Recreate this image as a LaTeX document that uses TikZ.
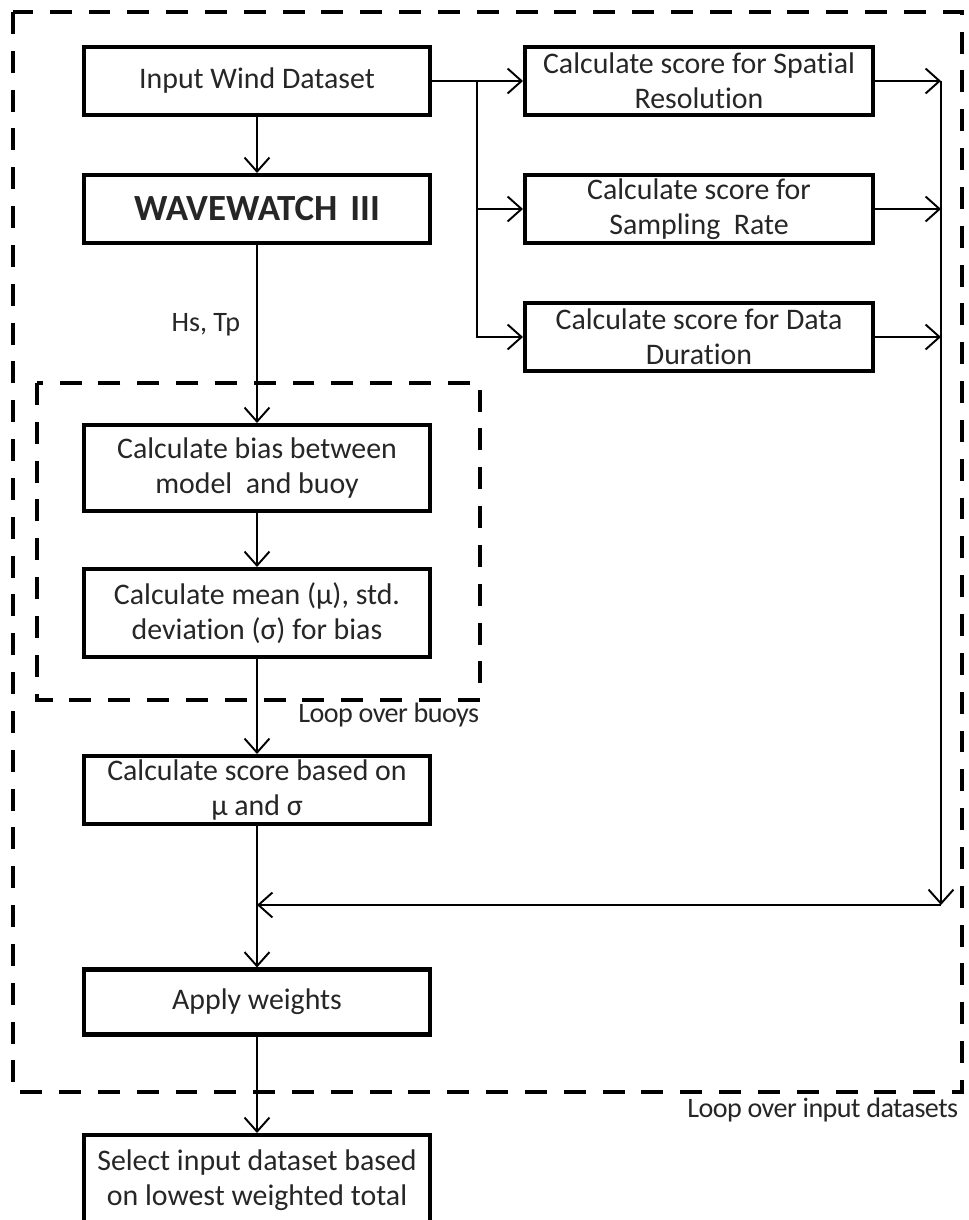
\documentclass[tikz,border=0pt]{standalone}
\usepackage{fontspec}
\setmainfont{Carlito}[Ligatures=NoCommon]
\usetikzlibrary{arrows.meta,positioning}

\begin{document}
\begin{tikzpicture}[x=0.02cm,y=-0.02cm,line width=1.1pt,>={Straight Barb[length=2.8mm,width=5mm]},
  box/.style={draw,line width=2.3pt,minimum width=6.92cm,minimum height=1.36cm,align=center,
    inner sep=1pt,text=black!85,font=\fontsize{17}{20}\selectfont},
  loop/.style={draw,line width=2.3pt,dash pattern=on 12.5pt off 9.6pt},
  note/.style={text=black!85,font=\fontsize{16}{18}\selectfont\addfontfeature{LetterSpace=-2}}]
  \useasboundingbox (0,0) rectangle (968,1220);
  % loops
  \draw[loop] (13,12) rectangle (962,1092);
  \draw[loop] (37,383) rectangle (480,700);
  \node[note,anchor=base east] (buoys) at (486,722) {Loop over buoys};
  \node[note,anchor=base east] (datasets) at (965,1117) {Loop over input datasets};
  % main chain
  \node[box] (wind) at (257,81) {Input Wind Dataset};
  \node[box,font=\fontsize{21}{24}\selectfont\bfseries] (ww3) at (257,209) {WAVEWATCH\hspace{0.35em}III};
  \node[box,minimum height=1.72cm] (bias) at (257,468) {Calculate bias between\\model\ \ and buoy};
  \node[box,minimum height=1.76cm] (stats) at (257,613) {Calculate mean (μ), std.\\deviation (σ) for bias};
  \node[box] (score) at (257,790) {Calculate score based on\\μ and σ};
  \node[box,minimum height=1.3cm] (weights) at (257,1002) {Apply weights};
  \node[box,minimum height=1.8cm] (select) at (257,1180) {Select input dataset based\\on lowest weighted total};
  % scores
  \node[box,minimum width=6.96cm] (spatial) at (699,81) {Calculate score for Spatial\\Resolution};
  \node[box,minimum width=6.96cm] (sampling) at (699,209) {Calculate score for\\Sampling\ \ Rate};
  \node[box,minimum width=6.96cm] (duration) at (699,337) {Calculate score for Data\\Duration};
  \coordinate (split) at (477,81);
  \coordinate (collect) at (941,81);
  \coordinate (corner) at (941,905);
  \coordinate (merge) at (257,905);
  % connectors
  \draw[->] (wind) -- (ww3);
  \draw[->] (ww3) -- node[text=black!85,font=\fontsize{16}{18}\selectfont,left=0.2cm,pos=0.45]{Hs, Tp} (bias);
  \draw[->] (bias) -- (stats);
  \draw[->] (stats) -- (score);
  \draw (score) -- (merge);
  \draw[->] (merge) -- (weights);
  \draw[->] (weights) -- (select);
  \draw (wind.east) -- (split);
  \draw[->] (split) -- (spatial.west);
  \draw[->] (split) |- (sampling.west);
  \draw[->] (split) |- (duration.west);
  \draw[->] (spatial.east) -- (collect);
  \draw[->] (sampling.east) -- (sampling.east -| collect);
  \draw[->] (duration.east) -- (duration.east -| collect);
  \draw[->] (collect) -- (corner);
  \draw[->] (corner) -- (merge);
\end{tikzpicture}
\end{document}
